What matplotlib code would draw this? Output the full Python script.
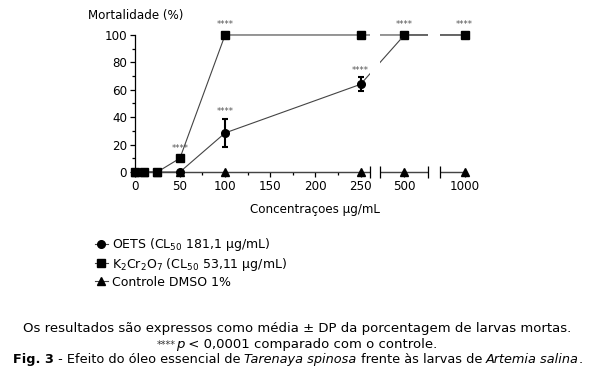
import numpy as np
import matplotlib
matplotlib.use("Agg")
import matplotlib.pyplot as plt
from matplotlib.lines import Line2D

# concentrations (ug/mL) and mortality (%)
conc = [0, 10, 25, 50, 100, 250, 500, 1000]
oets = [0, 0, 0, 0, 28.5, 64, 100, 100]
oets_sd = [0, 0, 0, 0, 10.5, 5, 0, 0]
k2cr = [0, 0, 0, 10, 100, 100, 100, 100]
dmso = [0, 0, 0, 0, 0, 0, 0, 0]
stars_k2 = [50, 100, 500, 1000]
stars_oets = [100, 250]

xticks = [0, 50, 100, 150, 200, 250, 500, 1000]
xminor = [25, 75, 125, 175, 225]

# broken x axis: 0-260 | 400-600 | 800-1000
bx = [0, 260, 400, 600, 800, 1000, 1100]
bu = [0, 260, 272, 325, 338, 365, 378.5]
gaps = [(260, 400), (600, 800)]
caps = [260, 400, 600, 800]

def fwd(x):
    return np.interp(x, bx, bu)

def inv(u):
    return np.interp(u, bu, bx)

plt.rcParams['font.family'] = 'DejaVu Sans'
fs = 8.6
fig = plt.figure(figsize=(5.98, 3.73), dpi=100)
ax = fig.add_axes([0.2253, 0.5389, 0.5535, 0.3673])
ax.set_xscale('function', functions=(fwd, inv))
ax.set_xlim(-6, 1010)
ax.set_ylim(0, 100)

lc = '#444444'
l1 = ax.errorbar(conc, oets, yerr=oets_sd, color='black', ecolor='black', lw=0.8,
                 marker='o', ms=5.5, capsize=2.5, elinewidth=1.5, capthick=1.5,
                 clip_on=False, zorder=4)
l1[0].set_color(lc); l1[0].set_markerfacecolor('black'); l1[0].set_markeredgecolor('black')
l2, = ax.plot(conc, k2cr, color=lc, lw=0.8, marker='s', ms=5.5, mfc='black', mec='black',
              clip_on=False, zorder=4)
l3, = ax.plot(conc, dmso, color=lc, lw=0.8, marker='^', ms=6, mfc='black', mec='black',
              clip_on=False, zorder=4)

# hide the gaps of the broken axis
for a, b in gaps:
    ax.axvspan(a, b, ymin=-0.05, ymax=1.03, color='white', zorder=4.5, clip_on=False, lw=0)
ax.plot(caps, [0] * len(caps), ls='none', marker='|', ms=8, mew=0.9, color='black',
        clip_on=False, zorder=5)

for x in stars_k2:
    ax.annotate('****', (x, k2cr[conc.index(x)]), xytext=(0, 4), textcoords='offset points',
                ha='center', va='bottom', fontsize=6, color='#555555')
for x in stars_oets:
    ax.annotate('****', (x, oets[conc.index(x)] + oets_sd[conc.index(x)]), xytext=(0, 2),
                textcoords='offset points', ha='center', va='bottom', fontsize=6, color='#555555')

for s in ['top', 'right']:
    ax.spines[s].set_visible(False)
ax.spines['left'].set_bounds(0, 100)
ax.spines['left'].set_linewidth(0.9)
ax.spines['bottom'].set_linewidth(0.9)
ax.set_yticks([0, 20, 40, 60, 80, 100])
ax.set_yticks(range(10, 100, 20), minor=True)
ax.set_xticks(xticks)
ax.set_xticklabels([str(t) for t in xticks])
ax.set_xticks(xminor, minor=True)
ax.tick_params(labelsize=fs, length=3.5, width=0.9, pad=2)
ax.tick_params(which='minor', length=2.5, width=0.9)

fig.text(88 / 598, 1 - 15 / 373, 'Mortalidade (%)', fontsize=fs, ha='left', va='center')
fig.text(315 / 598, 1 - 209 / 373, 'Concentraçoes μg/mL', fontsize=fs, ha='center', va='center')

h1 = Line2D([], [], color=lc, lw=0.8, marker='o', ms=5.5, mfc='black', mec='black')
leg = fig.legend([h1, l2, l3],
                 ['OETS (CL$_{50}$ 181,1 μg/mL)', 'K$_2$Cr$_2$O$_7$ (CL$_{50}$ 53,11 μg/mL)',
                  'Controle DMSO 1%'],
                 loc='upper left', bbox_to_anchor=(95 / 598, 1 - 236 / 373), frameon=False,
                 fontsize=9, handlelength=1.0, handletextpad=0.35, labelspacing=0.22,
                 borderpad=0, borderaxespad=0)

# caption with mixed styles, pieces laid out left to right and centered
renderer = fig.canvas.get_renderer()

def line_of(pieces, y, size=9.5, cx=297):
    texts = []
    for s, kw in pieces:
        t = fig.text(0, y, s, fontsize=kw.pop('size', size), va='baseline', ha='left', **kw)
        texts.append(t)
    widths = [t.get_window_extent(renderer).width for t in texts]
    x = cx - sum(widths) / 2
    for t, w in zip(texts, widths):
        t.set_x(x / 598)
        x += w

line_of([('Os resultados são expressos como média ± DP da porcentagem de larvas mortas.', {})],
        1 - 332 / 373)
line_of([('****', {'size': 7, 'color': '#333333'}), ('p', {'style': 'italic'}),
         (' < 0,0001 comparado com o controle.', {})], 1 - 348 / 373)
line_of([('Fig. 3', {'weight': 'bold'}), (' - Efeito do óleo essencial de ', {}),
         ('Tarenaya spinosa', {'style': 'italic'}), (' frente às larvas de ', {}),
         ('Artemia salina', {'style': 'italic'}), ('.', {})], 1 - 363 / 373, size=9.3, cx=298)

fig.savefig('out.png', dpi=100)
